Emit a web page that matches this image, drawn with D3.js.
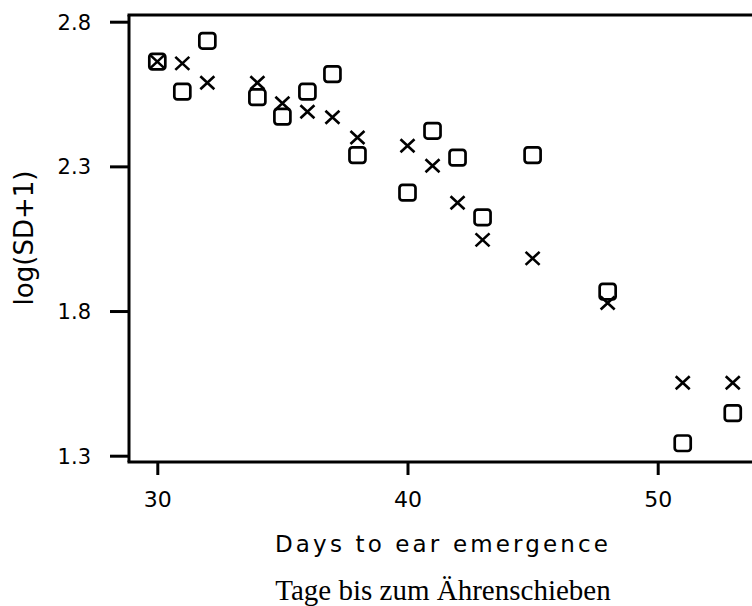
<!DOCTYPE html>
<html>
<head>
<meta charset="utf-8">
<script src="https://cdn.jsdelivr.net/npm/d3@7"></script>
<style>
  html, body { margin: 0; padding: 0; background: #fff; }
  svg { display: block; }
</style>
</head>
<body>
<svg id="chart" width="752" height="606"></svg>
<script>
// Days to ear emergence (x) against log(SD+1) (y), two groups
const days = [30, 31, 32, 34, 35, 36, 37, 38, 40, 41, 42, 43, 45, 48, 51, 53];
const circleValues = [2.662, 2.558, 2.734, 2.539, 2.472, 2.558, 2.619, 2.339, 2.209, 2.423, 2.330, 2.124, 2.339, 1.867, 1.343, 1.447];
const crossValues  = [2.662, 2.656, 2.589, 2.589, 2.518, 2.489, 2.470, 2.400, 2.371, 2.302, 2.174, 2.046, 1.982, 1.828, 1.552, 1.552];
const xTicks = [30, 40, 50];
const yTicks = [1.3, 1.8, 2.3, 2.8];
const yTickLabels = ["1.3", "1.8", "2.3", "2.8"];
const xTitle = "Days to ear emergence";
const yTitle = "log(SD+1)";
const caption = "Tage bis zum Ährenschieben";

const svg = d3.select("#chart");
const W = 752, H = 606;

// frame / axis placement
const axisX = 129, frameTop = 15, axisY = 462;

const x = d3.scaleLinear().domain([30, 50]).range([157.3, 657.7]);
const y = d3.scaleLinear().domain([1.3, 2.8]).range([455.7, 21.7]);

const sans = "'DejaVu Sans', Verdana, sans-serif";
const lw = 3;

// frame: top line, left axis line, bottom axis line (open on the right)
const frame = svg.append("g").attr("stroke", "#000").attr("stroke-width", lw).attr("fill", "none");
frame.append("line").attr("x1", axisX - lw / 2).attr("x2", W).attr("y1", frameTop).attr("y2", frameTop);
frame.append("line").attr("x1", axisX).attr("x2", axisX).attr("y1", frameTop).attr("y2", axisY);
frame.append("line").attr("x1", axisX - lw / 2).attr("x2", W).attr("y1", axisY).attr("y2", axisY);

// y axis ticks and labels
const yAxis = d3.axisLeft(y).tickValues(yTicks).tickSize(19).tickPadding(19)
  .tickFormat((d, i) => yTickLabels[i]);
const gy = svg.append("g").attr("transform", `translate(${axisX},0)`).call(yAxis);
gy.select(".domain").remove();
gy.selectAll(".tick line").attr("stroke", "#000").attr("stroke-width", lw);
gy.selectAll(".tick text").attr("fill", "#000").style("font-family", sans).style("font-size", "21px")
  .attr("dy", "0.36em");

// x axis ticks and labels
const xAxis = d3.axisBottom(x).tickValues(xTicks).tickSize(13).tickPadding(16);
const gx = svg.append("g").attr("transform", `translate(0,${axisY})`).call(xAxis);
gx.select(".domain").remove();
gx.selectAll(".tick line").attr("stroke", "#000").attr("stroke-width", lw);
gx.selectAll(".tick text").attr("fill", "#000").style("font-family", sans).style("font-size", "22px");

// axis titles
svg.append("text")
  .attr("transform", `translate(33,238) rotate(-90)`)
  .attr("text-anchor", "middle")
  .style("font-family", sans).style("font-size", "26px")
  .text(yTitle);

svg.append("text")
  .attr("x", 275).attr("y", 552)
  .attr("textLength", 333).attr("lengthAdjust", "spacing")
  .style("font-family", sans).style("font-size", "23px")
  .text(xTitle);

svg.append("text")
  .attr("x", 443).attr("y", 600)
  .attr("text-anchor", "middle")
  .style("font-family", "'Liberation Serif', 'Times New Roman', serif").style("font-size", "29px")
  .text(caption);

// points
const circles = days.map((d, i) => ({ day: d, v: circleValues[i] }));
const crosses = days.map((d, i) => ({ day: d, v: crossValues[i] }));

const ow = 16, oh = 15.5;
svg.append("g").selectAll("rect").data(circles).join("rect")
  .attr("x", d => x(d.day) - ow / 2)
  .attr("y", d => y(d.v) - oh / 2)
  .attr("width", ow).attr("height", oh)
  .attr("rx", 3).attr("ry", 3)
  .attr("fill", "none").attr("stroke", "#000").attr("stroke-width", 2.7);

const cw = 7, ch = 6.5;
svg.append("g").selectAll("path").data(crosses).join("path")
  .attr("d", d => {
    const cx = x(d.day), cy = y(d.v);
    return `M${cx - cw},${cy - ch}L${cx + cw},${cy + ch}M${cx - cw},${cy + ch}L${cx + cw},${cy - ch}`;
  })
  .attr("fill", "none").attr("stroke", "#000").attr("stroke-width", 2.6);
</script>
</body>
</html>
